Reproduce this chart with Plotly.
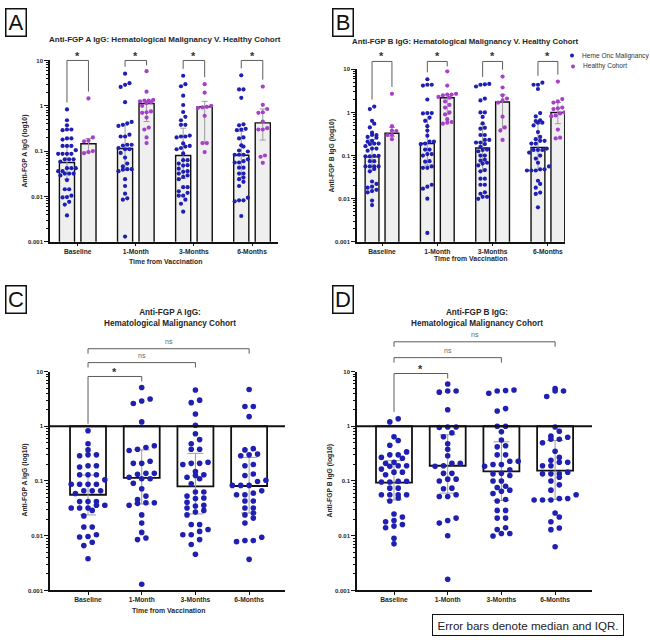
import numpy as np
import plotly.graph_objects as go

# ---------------- data ----------------
timepoints = ["Baseline", "1-Month", "3-Months", "6-Months"]

# Anti-FGP A IgG, Heme Onc Malignancy cohort (also panel C)
fgpA_heme = [
    [0.83, 0.48, 0.37, 0.30, 0.30, 0.29, 0.18, 0.19, 0.19, 0.13, 0.13, 0.13, 0.087, 0.087, 0.087, 0.087,
     0.105, 0.066, 0.066, 0.066, 0.059, 0.042, 0.042, 0.042, 0.032, 0.032, 0.036, 0.036, 0.032, 0.029,
     0.023, 0.0144, 0.0144, 0.0095, 0.0097, 0.0104, 0.0066, 0.0076, 0.0038],
    [5.1, 3.15, 2.6, 2.9, 1.2, 0.41, 0.44, 0.36, 0.38, 0.23, 0.21, 0.21, 0.138, 0.138, 0.133, 0.11, 0.11,
     0.117, 0.091, 0.072, 0.053, 0.046, 0.036, 0.039, 0.040, 0.040, 0.024, 0.017, 0.0115, 0.0091, 0.0085,
     0.0013],
    [4.6, 3.0, 2.7, 1.67, 1.04, 0.73, 0.57, 0.48, 0.38, 0.38, 0.21, 0.21, 0.20, 0.22, 0.148, 0.126, 0.13,
     0.117, 0.11, 0.089, 0.063, 0.063, 0.049, 0.053, 0.048, 0.035, 0.032, 0.036, 0.041, 0.027, 0.029,
     0.024, 0.016, 0.016, 0.012, 0.013, 0.0104, 0.0104, 0.0085, 0.0069, 0.0046],
    [4.7, 2.3, 2.3, 1.5, 0.37, 0.39, 0.29, 0.30, 0.31, 0.20, 0.19, 0.134, 0.126, 0.103, 0.098, 0.083,
     0.083, 0.083, 0.066, 0.056, 0.056, 0.060, 0.043, 0.043, 0.032, 0.032, 0.024, 0.026, 0.021, 0.017,
     0.0082, 0.0082, 0.0094, 0.0078, 0.0037],
]
# Anti-FGP B IgG, Heme Onc Malignancy cohort (also panel D)
fgpB_heme = [
    [1.37, 1.2, 0.64, 0.55, 0.45, 0.34, 0.30, 0.30, 0.26, 0.27, 0.22, 0.185, 0.21, 0.19, 0.19, 0.145,
     0.165, 0.145, 0.13, 0.096, 0.099, 0.096, 0.099, 0.074, 0.074, 0.056, 0.056, 0.049, 0.056, 0.056,
     0.043, 0.025, 0.022, 0.018, 0.019, 0.016, 0.015, 0.014, 0.009, 0.0071],
    [5.9, 4.4, 4.4, 4.2, 2.0, 0.95, 0.97, 0.97, 0.76, 0.64, 0.48, 0.38, 0.29, 0.21, 0.21, 0.185, 0.19,
     0.138, 0.138, 0.108, 0.10, 0.108, 0.074, 0.072, 0.052, 0.056, 0.052, 0.021, 0.017, 0.019, 0.010,
     0.0016],
    [4.4, 4.5, 4.6, 4.0, 2.1, 1.9, 1.0, 1.0, 0.79, 0.56, 0.44, 0.42, 0.30, 0.30, 0.23, 0.23, 0.20, 0.20,
     0.185, 0.16, 0.135, 0.138, 0.126, 0.10, 0.10, 0.08, 0.076, 0.068, 0.065, 0.059, 0.043, 0.046, 0.029,
     0.029, 0.021, 0.021, 0.014, 0.013, 0.0099, 0.011, 0.011],
    [4.9, 4.4, 4.4, 3.5, 0.97, 0.81, 0.66, 0.58, 0.58, 0.63, 0.50, 0.35, 0.27, 0.22, 0.22, 0.19, 0.24,
     0.19, 0.145, 0.135, 0.135, 0.135, 0.117, 0.10, 0.085, 0.068, 0.056, 0.048, 0.045, 0.045, 0.045,
     0.048, 0.026, 0.022, 0.018, 0.0129, 0.0138, 0.0063],
]
fgpA_healthy = [
    [1.45, 0.20, 0.17, 0.165, 0.10, 0.095, 0.09],
    [5.8, 2.05, 1.35, 1.3, 1.3, 1.25, 1.2, 1.15, 1.0, 0.75, 0.72, 0.7, 0.55, 0.33, 0.3, 0.2, 0.15],
    [3.0, 1.95, 1.0, 0.95, 0.92, 0.9, 0.6, 0.15, 0.15, 0.095],
    [2.65, 1.05, 0.85, 0.72, 0.7, 0.45, 0.32, 0.3, 0.3, 0.08, 0.075, 0.055],
]
fgpB_healthy = [
    [2.7, 0.48, 0.38, 0.37, 0.3, 0.3, 0.24],
    [9.0, 4.2, 2.7, 2.6, 2.6, 2.5, 2.3, 2.2, 1.8, 1.5, 1.3, 1.0, 0.9, 0.7, 0.6, 0.58, 0.55],
    [6.8, 3.8, 2.5, 2.1, 1.9, 1.7, 0.8, 0.45, 0.38, 0.23],
    [5.2, 2.05, 1.8, 1.7, 1.3, 1.25, 1.2, 1.0, 0.95, 0.85, 0.82, 0.4, 0.26, 0.25],
]
# medians and IQR (bars / error bars)
fgpA_heme_median = [0.056, 0.114, 0.080, 0.081]
fgpA_heme_q1 = [0.024, 0.038, 0.025, 0.026]
fgpA_heme_q3 = [0.128, 0.37, 0.32, 0.27]
fgpA_healthy_median = [0.145, 1.12, 0.95, 0.42]
fgpA_healthy_q1 = [0.095, 0.45, 0.145, 0.175]
fgpA_healthy_q3 = [0.19, 1.3, 1.25, 0.85]
fgpB_heme_median = [0.093, 0.19, 0.15, 0.155]
fgpB_heme_q1 = [0.045, 0.06, 0.044, 0.046]
fgpB_heme_q3 = [0.235, 0.7, 0.52, 0.55]
fgpB_healthy_median = [0.33, 2.2, 1.75, 1.0]
fgpB_healthy_q1 = [0.28, 0.9, 0.42, 0.55]
fgpB_healthy_q3 = [0.45, 2.6, 2.6, 1.7]

# significance labels
vs_healthy_sig = ["*", "*", "*", "*"]
vs_baseline_sig = ["*", "ns", "ns"]   # 1-Month, 3-Months, 6-Months vs Baseline

# ---------------- styling / geometry ----------------
W, H = 650, 642
FONT = "Liberation Sans, Arial, Helvetica, sans-serif"
TXT = "#262626"
BLUE = "#1f1fb2"
PURPLE = "#a640c9"
YR = (-3, 1)

panels = {
    "A": dict(xa="x", ya="y", px_x=(50, 278), px_y=(58, 241), xr=(-0.477, 3.447)),
    "B": dict(xa="x2", ya="y2", px_x=(357, 565), px_y=(67, 241), xr=(-0.452, 3.309)),
    "C": dict(xa="x3", ya="y3", px_x=(50, 285), px_y=(372, 593), xr=(-0.708, 3.668)),
    "D": dict(xa="x4", ya="y4", px_x=(357, 592), px_y=(372, 593), xr=(-0.689, 3.687)),
}


def ppu(p):
    return (p["px_x"][1] - p["px_x"][0]) / (p["xr"][1] - p["xr"][0])


def ppd(p):
    return (p["px_y"][1] - p["px_y"][0]) / (YR[1] - YR[0])


def paper_x(p, xv):
    x0, x1 = p["px_x"]
    r0, r1 = p["xr"]
    return (x0 + (xv - r0) / (r1 - r0) * (x1 - x0)) / W


def ypx_of(p, logv):
    t, b = p["px_y"]
    return b - (logv - YR[0]) / (YR[1] - YR[0]) * (b - t)


def py(ypx):
    return 1 - ypx / H


def pxx(xpx):
    return xpx / W


def swarm(vals, p, diam, step):
    lv = np.log10(np.asarray(vals, dtype=float))
    order = np.argsort(lv, kind="stable")
    offs = np.zeros(len(lv))
    rows, cur = [], [order[0]]
    for idx in order[1:]:
        if (lv[idx] - lv[cur[0]]) * ppd(p) < diam:
            cur.append(idx)
        else:
            rows.append(cur)
            cur = [idx]
    rows.append(cur)
    for r in rows:
        n = len(r)
        for j, idx in enumerate(r):
            offs[idx] = (j - (n - 1) / 2) * step
    return offs / ppu(p)


fig = go.Figure()

# ---- bars ----
def add_bars(p, centers, med, fill, lw, width, from_one=False):
    if from_one:
        fig.add_trace(go.Bar(x=centers, y=[1 - m for m in med], base=med, width=width,
                             marker=dict(color=fill, line=dict(color="#111111", width=lw)),
                             xaxis=p["xa"], yaxis=p["ya"], showlegend=False, hoverinfo="skip"))
    else:
        fig.add_trace(go.Bar(x=centers, y=med, width=width,
                             marker=dict(color=fill, line=dict(color="#111111", width=lw)),
                             xaxis=p["xa"], yaxis=p["ya"], showlegend=False, hoverinfo="skip"))


groups = np.arange(len(timepoints))
offA, offB = 0.185, 0.18
pA, pB, pC, pD = panels["A"], panels["B"], panels["C"], panels["D"]

add_bars(pA, groups - offA, fgpA_heme_median, "#efefef", 1.4, 0.26)
add_bars(pA, groups + offA, fgpA_healthy_median, "#efefef", 1.4, 0.26)
add_bars(pB, groups - offB, fgpB_heme_median, "#efefef", 1.4, 0.25)
add_bars(pB, groups + offB, fgpB_healthy_median, "#efefef", 1.4, 0.25)
add_bars(pC, groups, fgpA_heme_median, "white", 1.8, 0.67, from_one=True)
add_bars(pD, groups, fgpB_heme_median, "white", 1.8, 0.67, from_one=True)


# ---- error bars (median & IQR) ----
def add_err(p, centers, med, q1, q3, capw):
    fig.add_trace(go.Scatter(
        x=centers, y=med, mode="markers", marker=dict(size=1, color="rgba(0,0,0,0)"),
        error_y=dict(type="data", symmetric=False,
                     array=[b - m for b, m in zip(q3, med)],
                     arrayminus=[m - a for a, m in zip(q1, med)],
                     color="#9c9c9c", thickness=1, width=capw),
        xaxis=p["xa"], yaxis=p["ya"], showlegend=False, hoverinfo="skip"))


add_err(pA, groups - offA, fgpA_heme_median, fgpA_heme_q1, fgpA_heme_q3, 3)
add_err(pA, groups + offA, fgpA_healthy_median, fgpA_healthy_q1, fgpA_healthy_q3, 3)
add_err(pB, groups - offB, fgpB_heme_median, fgpB_heme_q1, fgpB_heme_q3, 3)
add_err(pB, groups + offB, fgpB_healthy_median, fgpB_healthy_q1, fgpB_healthy_q3, 3)
add_err(pC, groups, fgpA_heme_median, fgpA_heme_q1, fgpA_heme_q3, 8)
add_err(pD, groups, fgpB_heme_median, fgpB_heme_q1, fgpB_heme_q3, 8)


# ---- points ----
def add_points(p, centers, series, color, size, step):
    xs, ys = [], []
    for c, vals in zip(centers, series):
        o = swarm(vals, p, size, step)
        xs += list(c + o)
        ys += list(vals)
    fig.add_trace(go.Scatter(x=xs, y=ys, mode="markers",
                             marker=dict(size=size, color=color, line=dict(width=0)),
                             xaxis=p["xa"], yaxis=p["ya"], showlegend=False, hoverinfo="skip"))


add_points(pA, groups - offA, fgpA_heme, BLUE, 4.2, 4.4)
add_points(pA, groups + offA, fgpA_healthy, PURPLE, 4.2, 4.4)
add_points(pB, groups - offB, fgpB_heme, BLUE, 4.2, 4.4)
add_points(pB, groups + offB, fgpB_healthy, PURPLE, 4.2, 4.4)
add_points(pC, groups, fgpA_heme, BLUE, 5.6, 8.4)
add_points(pD, groups, fgpB_heme, BLUE, 5.6, 8.4)

# ---- axes ----
minor_vals = [k * 10.0 ** e for e in range(-3, 1) for k in range(2, 10)]
layout = dict(
    width=W, height=H, margin=dict(l=0, r=0, t=0, b=0),
    paper_bgcolor="white", plot_bgcolor="rgba(0,0,0,0)",
    barmode="overlay", showlegend=False,
    font=dict(family=FONT, color=TXT),
)
for key, p in panels.items():
    xs = "xaxis" + p["xa"][1:]
    ys = "yaxis" + p["ya"][1:]
    layout[xs] = dict(
        domain=[p["px_x"][0] / W, p["px_x"][1] / W], range=list(p["xr"]), anchor=p["ya"],
        tickmode="array", tickvals=list(groups), ticktext=timepoints,
        showline=True, linecolor="#111111", linewidth=1.5, ticks="outside", ticklen=3,
        tickwidth=1.2, tickcolor="#111111", showgrid=False, zeroline=False, fixedrange=True,
        ticklabelstandoff=-1,
        tickfont=dict(family=FONT, size=6.7, color=TXT, weight=700))
    layout[ys] = dict(
        domain=[1 - p["px_y"][1] / H, 1 - p["px_y"][0] / H], type="log", range=list(YR),
        anchor=p["xa"], tickmode="array", tickvals=[0.001, 0.01, 0.1, 1, 10],
        ticktext=["0.001", "0.01", "0.1", "1", "10"],
        showline=True, linecolor="#111111", linewidth=1.5, ticks="outside", ticklen=4,
        tickwidth=1.2, tickcolor="#111111", showgrid=False, zeroline=False, fixedrange=True,
        tickfont=dict(family=FONT, size=6, color=TXT, weight=700),
        minor=dict(tickmode="array", tickvals=minor_vals, ticks="outside", ticklen=2,
                   tickwidth=0.8, tickcolor="#111111", showgrid=False))
fig.update_layout(**layout)

shapes, annos = [], []

# horizontal reference line at 1 (panels C & D)
for p in (pC, pD):
    shapes.append(dict(type="line", xref=p["xa"] + " domain", x0=0, x1=1, yref=p["ya"], y0=1, y1=1,
                       line=dict(color="#111111", width=1.8), layer="above"))


def bracket(p, xl, xr, top_px, left_px, right_px, label, star):
    col = "#5c5c5c"
    xa, xb = paper_x(p, xl), paper_x(p, xr)
    for (x0, y0, x1, y1) in [(xa, left_px, xa, top_px), (xa, top_px, xb, top_px), (xb, top_px, xb, right_px)]:
        shapes.append(dict(type="line", xref="paper", yref="paper", x0=x0, x1=x1, y0=py(y0), y1=py(y1),
                           line=dict(color=col, width=1)))
    if star:
        annos.append(dict(x=(xa + xb) / 2, y=py(top_px - 5), xref="paper", yref="paper", text=label,
                          showarrow=False, xanchor="center", yanchor="middle",
                          font=dict(family=FONT, size=11, color="#333333", weight=700)))
    else:
        annos.append(dict(x=(xa + xb) / 2, y=py(top_px - 7), xref="paper", yref="paper", text=label,
                          showarrow=False, xanchor="center", yanchor="middle",
                          font=dict(family=FONT, size=7, color="#666666")))


def leg_end(p, vals, top_px, gap=7, minleg=5):
    y = ypx_of(p, np.log10(max(vals))) - gap
    return max(y, top_px + minleg)


# A/B: malignancy vs healthy at each time point
for p, heme, healthy, off, top_px in ((pA, fgpA_heme, fgpA_healthy, offA, 58),
                                      (pB, fgpB_heme, fgpB_healthy, offB, 59)):
    for i in range(len(timepoints)):
        bracket(p, i - off, i + off, top_px, leg_end(p, heme[i], top_px), leg_end(p, healthy[i], top_px),
                vs_healthy_sig[i], True)

# C/D: each time point vs baseline
for p, heme, levels in ((pC, fgpA_heme, (377, 363, 349)), (pD, fgpB_heme, (374, 358, 342))):
    for k in range(3):
        top = levels[k]
        if k == 0:
            l_end = leg_end(p, heme[0], top)
            r_end = leg_end(p, heme[k + 1], top)
        else:
            l_end = top + 5
            r_end = top + 5
        bracket(p, 0, k + 1, top, l_end, r_end, vs_baseline_sig[k], vs_baseline_sig[k] != "ns")


def text(xpx, ypx, s, size, bold=True, angle=0, color=TXT, xanchor="center"):
    annos.append(dict(x=pxx(xpx), y=py(ypx), xref="paper", yref="paper", text=s, showarrow=False,
                      xanchor=xanchor, yanchor="middle", textangle=angle,
                      font=dict(family=FONT, size=size, color=color, weight=700 if bold else 400)))


# titles
text(165, 37, "Anti-FGP A IgG: Hematological Malignancy V. Healthy Cohort", 8)
text(465, 39, "Anti-FGP B IgG: Hematological Malignancy V. Healthy Cohort", 7.8)
text(170, 318, "Anti-FGP A IgG:<br>Hematological Malignancy Cohort", 8.2)
text(477, 318, "Anti-FGP B IgG:<br>Hematological Malignancy Cohort", 8.2)

# axis titles
text(25, 150, "Anti-FGP A IgG (log10)", 6.8, angle=-90)
text(332, 154, "Anti-FGP B IgG (log10)", 6.8, angle=-90)
text(25, 482, "Anti-FGP A IgG (log10)", 6.8, angle=-90)
text(330, 482, "Anti-FGP B IgG (log10)", 6.8, angle=-90)
text(165, 261, "Time from Vaccination", 6.9)
text(470, 258, "Time from Vaccination", 6.9)
text(168, 613, "Time from Vaccination", 6.9)

# legend (panel B)
for (mx, my, lab, col) in ((572, 53, "Heme Onc Malignancy", BLUE), (573, 64, "Healthy Cohort", PURPLE)):
    shapes.append(dict(type="circle", xref="paper", yref="paper",
                       x0=pxx(mx - 2), x1=pxx(mx + 2), y0=py(my + 2), y1=py(my - 2),
                       fillcolor=col, line=dict(width=0)))
    text(mx + 8, my, lab, 6.6, bold=False, color="#333333", xanchor="left")

# panel letters
for (lx, ly, lab) in ((5, 5, "A"), (332, 5, "B"), (5, 285, "C"), (332, 285, "D")):
    annos.append(dict(x=pxx(lx), y=py(ly), xref="paper", yref="paper", text=lab, showarrow=False,
                      xanchor="left", yanchor="top", width=17, height=24, borderpad=1,
                      bordercolor="#111111", borderwidth=1.5, bgcolor="white",
                      font=dict(family=FONT, size=22, color="#111111")))

# note box
annos.append(dict(x=pxx(528), y=py(627.5), xref="paper", yref="paper",
                  text="Error bars denote median and IQR.", showarrow=False,
                  xanchor="center", yanchor="middle", width=186, height=16, borderpad=2,
                  bordercolor="#111111", borderwidth=1, bgcolor="white",
                  font=dict(family=FONT, size=11.6, color="#222222")))

fig.update_layout(shapes=shapes, annotations=annos)
fig.write_html("out.html")
